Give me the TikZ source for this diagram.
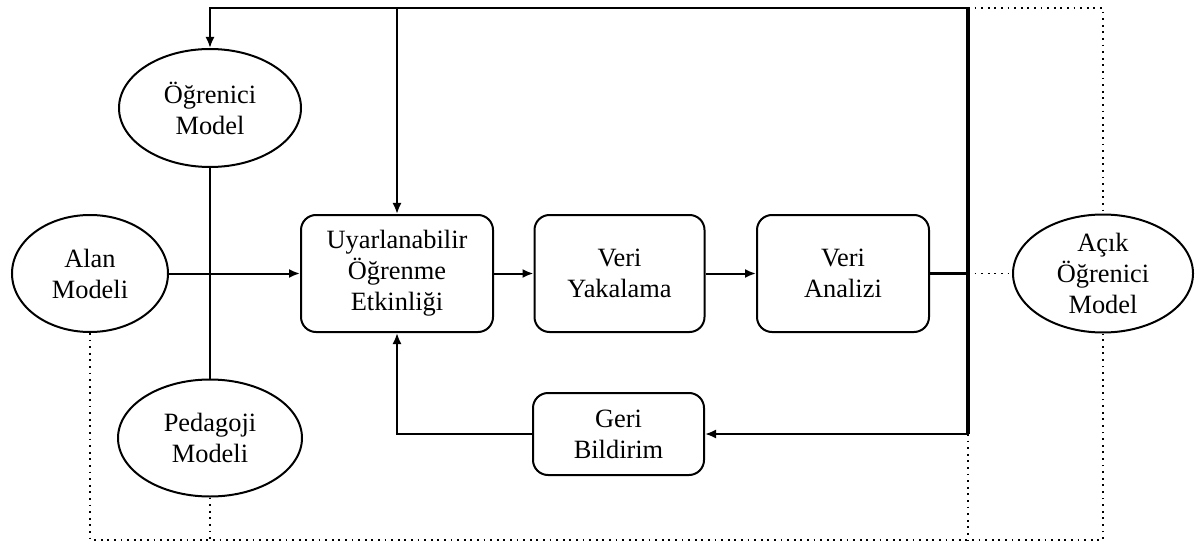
\documentclass[tikz,border=0pt]{standalone}
\usepackage{fontspec}
\setmainfont{Liberation Serif}
\usetikzlibrary{shapes.geometric,arrows.meta}
\begin{document}
\begin{tikzpicture}[x=0.5pt,y=-0.5pt,
  every node/.style={font=\fontsize{13.2}{15.5}\selectfont, align=center},
  ell/.style={draw, ellipse, line width=1pt, inner sep=-3pt},
  rbox/.style={draw, rectangle, rounded corners=7.5pt, line width=1pt, inner sep=0pt, minimum height=58.5pt},
  conn/.style={line width=1pt},
  arr/.style={line width=1pt, -{Latex[length=5.5pt,width=4.5pt]}},
  thickline/.style={line width=1.8pt},
  dotline/.style={line width=0.9pt, dash pattern=on 0.9pt off 2.4pt}
]
\useasboundingbox (0,0) rectangle (1197,545);

% nodes
\node[ell, minimum width=91pt, minimum height=59pt] (og) at (210,108) {Öğrenici\\Model};
\node[ell, minimum width=78pt, minimum height=58.5pt] (am) at (90,273.5) {Alan\\Modeli};
\node[ell, minimum width=92pt, minimum height=58.5pt] (pm) at (210,438) {Pedagoji\\Modeli};
\node[ell, minimum width=90pt, minimum height=59pt] (ac) at (1103,273.5) {Açık\\Öğrenici\\Model};

\node[rbox, minimum width=96pt] (ua) at (397,273.5) {Uyarlanabilir\\Öğrenme\\Etkinliği};
\node[rbox, minimum width=85pt] (vy) at (619.5,273.5) {Veri\\Yakalama};
\node[rbox, minimum width=86pt] (va) at (843,273.5) {Veri\\Analizi};
\node[rbox, minimum width=85.5pt, minimum height=41pt] (gb) at (618.5,434) {Geri\\Bildirim};

% coordinates
\coordinate (t1) at (968,8);
\coordinate (t2) at (397,8);
\coordinate (j) at (968,273.5);
\coordinate (t3) at (968,434);
\coordinate (b) at (0,540);

% solid connectors
\draw[arr] (t1) -| (og.north);
\draw[arr] (t2) -- (ua.north);
\draw[thickline] (va.east) -- (j);
\draw[thickline] (t1) -- (t3);
\draw[arr] (t3) -- (gb.east);
\draw[arr] (gb.west) -| (ua.south);
\draw[conn] (og.south) -- (pm.north);
\draw[arr] (am.east) -- (ua.west);
\draw[arr] (ua.east) -- (vy.west);
\draw[arr] (vy.east) -- (va.west);

% dotted connectors
\draw[dotline] (t1) -| (ac.north);
\draw[dotline] (j) -- (ac.west);
\draw[dotline] (am.south) -- (am.south |- b) -- (ac.south |- b) -- (ac.south);
\draw[dotline] (pm.south) -- (pm.south |- b);
\draw[dotline] (t3) -- (t3 |- b);
\end{tikzpicture}
\end{document}
